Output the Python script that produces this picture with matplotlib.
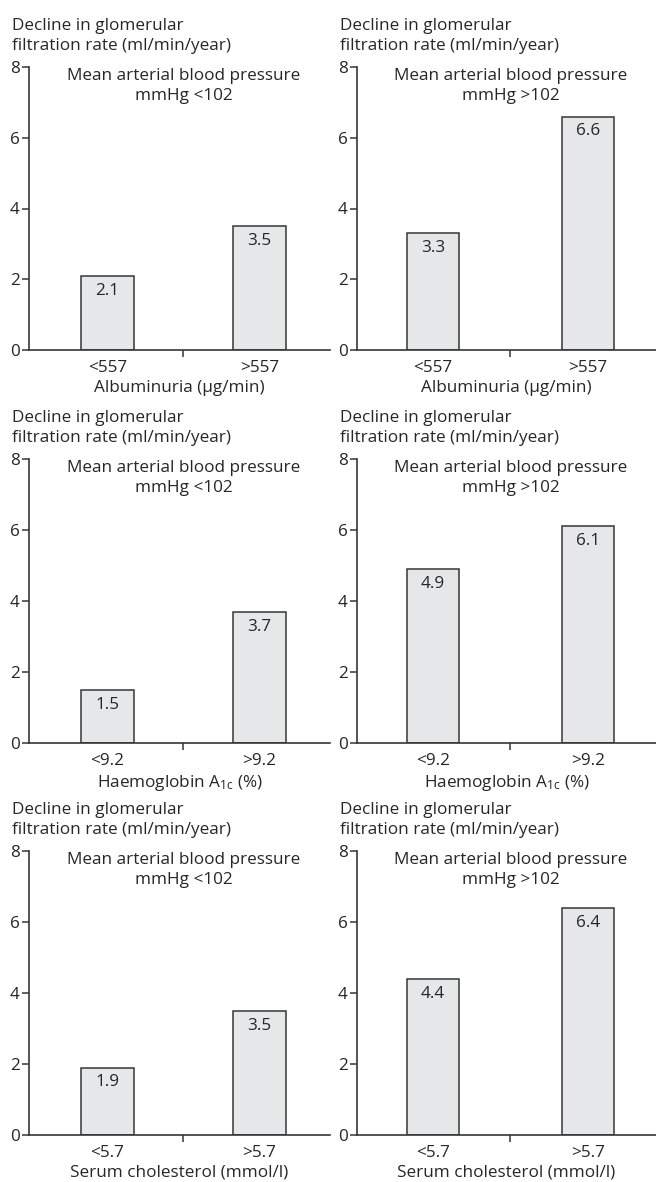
import matplotlib
matplotlib.use("Agg")
import matplotlib.pyplot as plt
import matplotlib.transforms as mtransforms
from matplotlib.ticker import FixedLocator

plt.rcParams['font.family'] = ['Open Sans', 'DejaVu Sans']
plt.rcParams['mathtext.fontset'] = 'custom'
plt.rcParams['mathtext.rm'] = 'Open Sans'
plt.rcParams['mathtext.it'] = 'Open Sans'

# Data: decline in GFR (ml/min/year), split by mean arterial blood pressure
pressure_groups = ["Mean arterial blood pressure\nmmHg <102",
                   "Mean arterial blood pressure\nmmHg >102"]
albuminuria_cats = ["<557", ">557"]
albuminuria_low_bp = [2.1, 3.5]
albuminuria_high_bp = [3.3, 6.6]
hba1c_cats = ["<9.2", ">9.2"]
hba1c_low_bp = [1.5, 3.7]
hba1c_high_bp = [4.9, 6.1]
chol_cats = ["<5.7", ">5.7"]
chol_low_bp = [1.9, 3.5]
chol_high_bp = [4.4, 6.4]
xlabels = ["Albuminuria (µg/min)",
           r"Haemoglobin A$_{\mathregular{1c}}$ (%)",
           "Serum cholesterol (mmol/l)"]
ylabel = "Decline in glomerular\nfiltration rate (ml/min/year)"
yticks = [0, 2, 4, 6, 8]

rows = [
    (albuminuria_cats, albuminuria_low_bp, albuminuria_high_bp),
    (hba1c_cats, hba1c_low_bp, hba1c_high_bp),
    (chol_cats, chol_low_bp, chol_high_bp),
]

W, H = 656, 1182
fig = plt.figure(figsize=(W / 100, H / 100), dpi=100)

INK = "#262626"
LINE = "#363636"
FILL = "#e6e7e9"

col_x = [(29, 330), (357, 656)]
col_xlim = [(-0.516, 1.464), (-0.49, 1.44)]
col_width = [0.35, 0.335]
row_y = [(67, 350), (459, 743), (851, 1135)]
fs = 12.3

for r, (cats, low, high) in enumerate(rows):
    for c, vals in enumerate([low, high]):
        x0, x1 = col_x[c]
        ytop, ybot = row_y[r]
        ax = fig.add_axes([x0 / W, 1 - ybot / H, (x1 - x0) / W, (ybot - ytop) / H])
        xs = list(range(len(cats)))
        ax.bar(xs, vals, width=col_width[c], color=FILL, edgecolor=LINE, linewidth=1.1)
        for x, v in zip(xs, vals):
            ax.annotate(f"{v:.1f}", (x, v), xytext=(0, -5), textcoords="offset points",
                        ha="center", va="top", fontsize=fs, color=INK)
        ax.set_ylim(0, 8)
        ax.set_xlim(*col_xlim[c])
        for s in ["top", "right"]:
            ax.spines[s].set_visible(False)
        for s in ["left", "bottom"]:
            ax.spines[s].set_color(LINE)
            ax.spines[s].set_linewidth(1.2)
        ax.set_yticks(yticks)
        ax.set_yticklabels([str(t) for t in yticks])
        ax.tick_params(axis="y", length=5, width=1.1, color=LINE, labelsize=fs,
                       labelcolor=INK, pad=1.5)
        ax.set_xticks(xs)
        ax.set_xticklabels(cats)
        ax.tick_params(axis="x", which="major", length=0, labelsize=fs,
                       labelcolor=INK, pad=7.5)
        ax.xaxis.set_minor_locator(FixedLocator([0.5]))
        ax.tick_params(axis="x", which="minor", length=5, width=1.1, color=LINE)
        ax.set_xlabel(xlabels[r], fontsize=fs, color=INK, labelpad=2.5)
        # Panel heading centred over the middle tick between the two bars
        trans = mtransforms.blended_transform_factory(ax.transData, ax.transAxes)
        ax.text(0.5, 0.995, pressure_groups[c], transform=trans, ha="center",
                va="top", fontsize=fs, color=INK, linespacing=1.3)
        fig.text((x0 - 17) / W, 1 - (ytop - 13) / H, ylabel, ha="left", va="bottom",
                 fontsize=fs, color=INK, linespacing=1.35)

fig.savefig("out.png", dpi=100, facecolor="white")
